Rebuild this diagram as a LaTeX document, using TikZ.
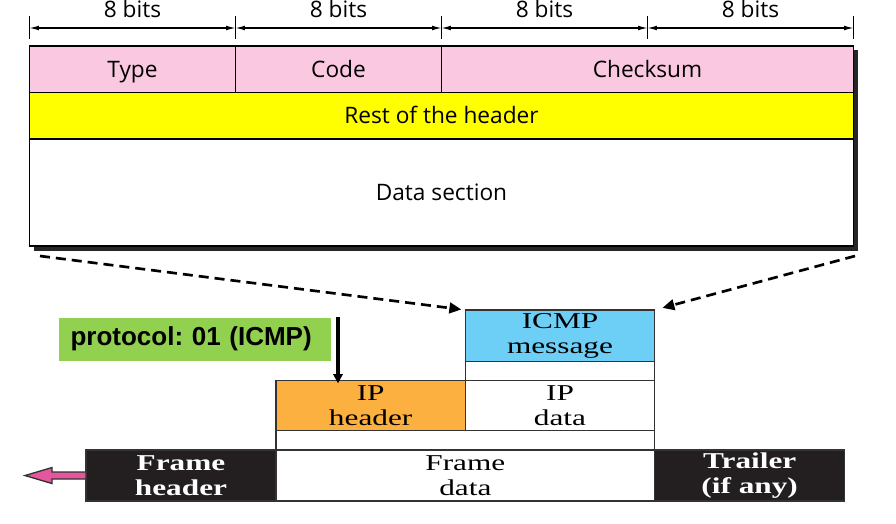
\documentclass[tikz,border=0pt]{standalone}
\usepackage{fontspec}
\usetikzlibrary{arrows.meta}
\newfontfamily\hdrfont{Open Sans}
\newfontfamily\pktfont[FakeStretch=1.38]{Liberation Serif}
\newfontfamily\protofont{Liberation Sans}
\definecolor{hdrpink}{RGB}{250,200,225}
\definecolor{restyellow}{RGB}{255,255,0}
\definecolor{icmpblue}{RGB}{109,207,246}
\definecolor{iporange}{RGB}{251,176,64}
\definecolor{framedark}{RGB}{35,31,32}
\definecolor{protogreen}{RGB}{146,208,80}
\definecolor{arrowpink}{RGB}{228,87,157}
\frenchspacing
\tikzset{every picture/.style={line width=0.75pt}}
\tikzset{
  field/.style={draw=black, line width=1.1pt, inner sep=0pt, outer sep=0pt, anchor=north west, text height=15pt, text depth=3pt, font=\hdrfont\fontsize{17}{19}\selectfont},
  layer/.style={draw=black!80, line width=1.1pt, inner sep=0pt, outer sep=0pt, align=center, font=\pktfont\fontsize{17}{19}\selectfont},
  darklayer/.style={layer, fill=framedark, text=white, font=\pktfont\bfseries\fontsize{17}{19}\selectfont},
  dashline/.style={dash pattern=on 7.5pt off 4.5pt, line width=2pt, -{Triangle[length=9pt,width=8pt]}},
  bitsarrow/.style={line width=0.8pt, {Latex[length=7pt,width=3.5pt]}-{Latex[length=7pt,width=3.5pt]}},
}
\begin{document}
\begin{tikzpicture}[x=0.75pt,y=0.75pt,yscale=-1,xscale=1]
        \useasboundingbox (0,0) rectangle (896,524);

        %Shape: Shadow of the header box
        \fill[black!85] (34,50.5) rectangle (858,250.5) ;
        %Shape: Header fields
        \node[field, fill=hdrpink, minimum width=154.5pt, minimum height=34.875pt] (type) at (29.5,46) {Type};
        \node[field, fill=hdrpink, minimum width=154.5pt, minimum height=34.875pt] (code) at (type.north east) {Code};
        \node[field, fill=hdrpink, minimum width=309pt, minimum height=34.875pt] (cksum) at (code.north east) {Checksum};
        \node[field, fill=restyellow, minimum width=618pt, minimum height=34.875pt] (rest) at (type.south west) {Rest of the header};
        \node[field, fill=white, minimum width=618pt, minimum height=80.25pt] (datasec) at (rest.south west) {Data section};

        %Straight Lines: bit widths
        \foreach \i/\x in {0/29.5,1/235.5,2/441.5,3/647.5,4/853.5}{
            \draw[line width=0.8pt] (\x,16) -- (\x,39) ;
            \coordinate (t\i) at (\x,28) ;
        }
        \foreach \a/\b/\m in {0/1/132.5,1/2/338.5,2/3/544.5,3/4/750.5}{
            \draw[bitsarrow] (t\a) -- (t\b) ;
            % Text Node
            \node[anchor=base, inner sep=0pt, font=\hdrfont\fontsize{17}{19}\selectfont] (bits\a) at (\m,17.3) {8 bits};
        }

        %Shape: Encapsulation layers
        \node[layer, fill=iporange, anchor=north west, minimum width=142pt, minimum height=37.5pt] (iphdr) at (276,380.7) {IP\\header};
        \node[layer, fill=white, anchor=north west, minimum width=142pt, minimum height=37.5pt] (ipdata) at (iphdr.north east) {IP\\data};
        \node[layer, fill=white, anchor=south west, minimum width=142pt, minimum height=14.25pt] (gapicmp) at (ipdata.north west) {};
        \node[layer, fill=icmpblue, anchor=south west, minimum width=142pt, minimum height=38.8pt] (icmp) at (gapicmp.north west) {ICMP\\message};
        \node[layer, fill=white, anchor=north west, minimum width=284pt, minimum height=14.5pt] (gapip) at (iphdr.south west) {};
        \node[layer, fill=white, anchor=north west, minimum width=284pt, minimum height=38.25pt] (fdata) at (gapip.south west) {Frame\\data};
        \node[darklayer, anchor=north east, minimum width=142.5pt, minimum height=38.25pt] (fhdr) at (fdata.north west) {Frame\\header};
        \node[darklayer, anchor=north west, minimum width=142.5pt, minimum height=38.25pt] (trailer) at (fdata.north east) {Trailer\\(if any)};

        %Shape: Protocol field
        \node[fill=protogreen, anchor=north west, inner sep=0pt, inner xsep=9pt, text width=186pt, align=left, minimum height=32.25pt, font=\protofont\bfseries\fontsize{19.5}{22}\selectfont] (proto) at (58,317) {protocol: 01 (ICMP)};

        %Straight Lines: dashed zoom lines
        \coordinate (dl) at (40,256) ;
        \coordinate (dr) at (855,256) ;
        \draw[dashline, shorten >=3pt] (dl) -- (icmp.north west) ;
        \draw[dashline, shorten >=6pt] (dr) -- (icmp.north east) ;

        %Straight Lines: protocol arrow
        \coordinate (pa) at (338,317) ;
        \draw[line width=2.4pt, -{Triangle[length=7pt,width=7pt]}, shorten >=-2pt] (pa) -- (pa |- iphdr.north) ;

        %Shape: Arrow out of the frame
        \draw[draw=black!80, fill=arrowpink, line width=1pt] (fhdr.west) ++(0,-3.5) -- ++(-34,0) -- ++(0,-4.5) -- ++(-27,8) -- ++(27,8) -- ++(0,-4.5) -- ++(34,0) -- cycle ;

    \end{tikzpicture}
\end{document}
